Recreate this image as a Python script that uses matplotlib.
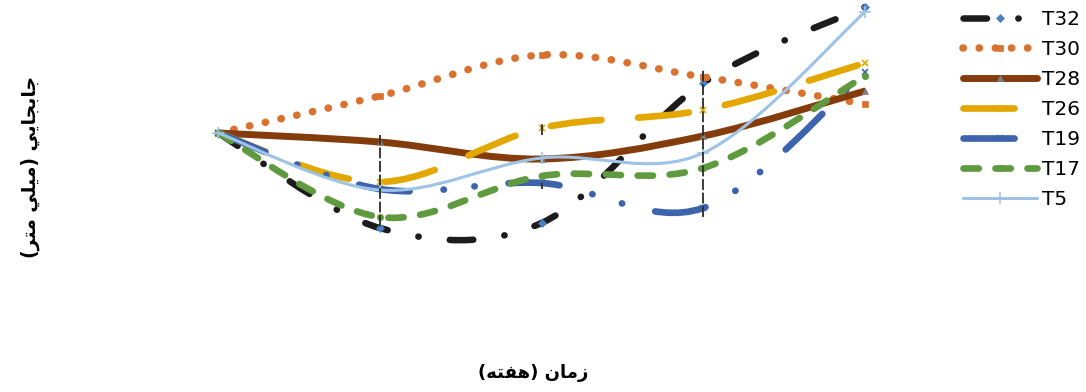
import matplotlib
matplotlib.use("Agg")
import matplotlib.pyplot as plt
from matplotlib.path import Path
from matplotlib.patches import PathPatch
from matplotlib.lines import Line2D

# displacement (mm) per week
weeks = [0, 1, 2, 3, 4]
names = ["T32", "T30", "T28", "T26", "T19", "T17", "T5"]
t32 = [0, -3.80, -3.60, 2.00, 5.04]
t30 = [0, 1.48, 3.12, 2.24, 1.16]
t28 = [0, -0.36, -1.04, -0.12, 1.68]
t26 = [0, -1.96, 0.20, 0.92, 2.80]
t19 = [0, -2.24, -2.00, -3.00, 2.44]
t17 = [0, -3.36, -1.72, -1.40, 2.28]
t5 = [0, -2.28, -1.00, -0.80, 4.84]

# dashed vertical bars (x, low, high)
bar_x = [1, 2, 2, 3]
bar_lo = [-3.72, -0.08, -2.24, -3.36]
bar_hi = [-0.08, 0.44, -2.00, 2.60]

x_label = "زمان (هفته)"
y_label = "جابجايي (ميلي متر)"

STYLES = {
    # color, width(pt), dashes, marker, marker color, marker size
    "T32": ("#1c1c1c", 4.7, (3.6, 4.8, 0.05, 4.8), "D", "#4a7fc0", 4.0),
    "T30": ("#d9712f", 5.4, (0.05, 2.1), "s", "#d9712f", 4.6),
    "T28": ("#843c0c", 5.0, None, "^", "#808080", 5.0),
    "T26": ("#e3a800", 4.8, (7.66, 5.5), "x", "#e3a800", 4.5),
    "T19": ("#3d63ad", 4.8, (7.66, 5.1, 0.05, 4.6, 0.05, 5.1), "x", "#3d63ad", 4.0),
    "T17": ("#5f9b3e", 4.8, (2.3, 2.5), "o", "#5f9b3e", 4.6),
    "T5": ("#9dc3e6", 2.2, None, "+", "#9dc3e6", 9.0),
}

# minimal arabic shaping: isolated, final, initial, medial
FORMS = {
    "ا": ("\ufe8d", "\ufe8e", None, None),
    "ب": ("\ufe8f", "\ufe90", "\ufe91", "\ufe92"),
    "ت": ("\ufe95", "\ufe96", "\ufe97", "\ufe98"),
    "ج": ("\ufe9d", "\ufe9e", "\ufe9f", "\ufea0"),
    "ر": ("\ufead", "\ufeae", None, None),
    "ز": ("\ufeaf", "\ufeb0", None, None),
    "ف": ("\ufed1", "\ufed2", "\ufed3", "\ufed4"),
    "ل": ("\ufedd", "\ufede", "\ufedf", "\ufee0"),
    "م": ("\ufee1", "\ufee2", "\ufee3", "\ufee4"),
    "ن": ("\ufee5", "\ufee6", "\ufee7", "\ufee8"),
    "ه": ("\ufee9", "\ufeea", "\ufeeb", "\ufeec"),
    "ي": ("\ufef1", "\ufef2", "\ufef3", "\ufef4"),
}


def shape_rtl(text):
    out = []
    for i, ch in enumerate(text):
        if ch not in FORMS:
            out.append(ch)
            continue
        prev = text[i - 1] if i > 0 else ""
        nxt = text[i + 1] if i + 1 < len(text) else ""
        join_prev = prev in FORMS and FORMS[prev][2] is not None
        join_next = nxt in FORMS and FORMS[ch][2] is not None
        iso, fin, ini, med = FORMS[ch]
        if join_prev and join_next:
            out.append(med)
        elif join_prev:
            out.append(fin)
        elif join_next:
            out.append(ini)
        else:
            out.append(iso)
    mirror = {"(": ")", ")": "("}
    return "".join(mirror.get(c, c) for c in reversed(out))


def smooth_path(xs, ys):
    pts = list(zip(xs, ys))
    n = len(pts)
    verts = [pts[0]]
    codes = [Path.MOVETO]
    for i in range(n - 1):
        p0 = pts[max(i - 1, 0)]
        p1 = pts[i]
        p2 = pts[i + 1]
        p3 = pts[min(i + 2, n - 1)]
        c1 = (p1[0] + (p2[0] - p0[0]) / 6, p1[1] + (p2[1] - p0[1]) / 6)
        c2 = (p2[0] - (p3[0] - p1[0]) / 6, p2[1] - (p3[1] - p1[1]) / 6)
        verts += [c1, c2, p2]
        codes += [Path.CURVE4] * 3
    return Path(verts, codes)


fig = plt.figure(figsize=(10.86, 3.92), dpi=100)
ax = fig.add_axes([218 / 1086, 1 - 330 / 392, 647 / 1086, 330 / 392])
ax.set_xlim(0, 4)
ax.set_ylim(-7.88, 5.32)
ax.axis("off")

handles = []
for z, (name, values) in enumerate(zip(names, [t32, t30, t28, t26, t19, t17, t5])):
    color, lw, dashes, marker, mcolor, ms = STYLES[name]
    ls = "-" if dashes is None else (0, dashes)
    patch = PathPatch(
        smooth_path(weeks, values),
        fill=False,
        edgecolor=color,
        linewidth=lw,
        linestyle=ls,
        capstyle="round",
        joinstyle="round",
        zorder=2 + z,
    )
    ax.add_patch(patch)
    ax.plot(
        weeks,
        values,
        linestyle="none",
        marker=marker,
        color=mcolor,
        markersize=ms,
        markeredgewidth=1.2 if marker in "x+" else 0.5,
        clip_on=False,
        zorder=2.5 + z,
    )
    handles.append(
        Line2D(
            [],
            [],
            color=color,
            linewidth=lw,
            linestyle=ls,
            dash_capstyle="round",
            solid_capstyle="round",
            marker=marker,
            markerfacecolor=mcolor,
            markeredgecolor=mcolor,
            markersize=ms,
            markeredgewidth=1.2 if marker in "x+" else 0.5,
        )
    )

ax.vlines(
    bar_x,
    bar_lo,
    bar_hi,
    colors="#2b2b2b",
    linewidth=1.3,
    linestyles=(0, (6, 1.5)),
    zorder=20,
)

fig.legend(
    handles,
    names,
    loc="upper left",
    bbox_to_anchor=(963 / 1086, 1 - 10 / 392),
    bbox_transform=fig.transFigure,
    frameon=False,
    fontsize=14.5,
    handlelength=3.68,
    handletextpad=0.25,
    labelspacing=0.55,
    borderpad=0,
    borderaxespad=0,
    numpoints=1,
)

fig.text(
    533 / 1086,
    1 - 373 / 392,
    shape_rtl(x_label),
    ha="center",
    va="center",
    fontsize=13,
    fontweight="bold",
    family="DejaVu Sans",
)
fig.text(
    30 / 1086,
    1 - 167 / 392,
    shape_rtl(y_label),
    ha="center",
    va="center",
    rotation=90,
    fontsize=13.5,
    fontweight="bold",
    family="DejaVu Sans",
)

fig.savefig("out.png", dpi=100)
